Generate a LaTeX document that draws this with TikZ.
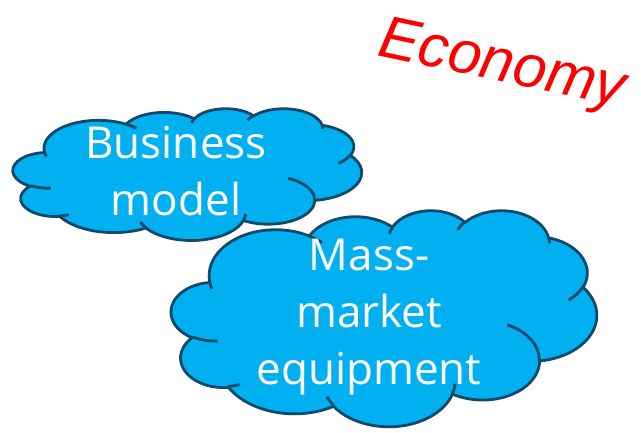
\documentclass[tikz,border=0pt]{standalone}
\usepackage{fontspec}
\setmainfont{Open Sans}
\newfontfamily\econfont{Liberation Sans}
\definecolor{cloudfill}{HTML}{00B0F0}
\definecolor{cloudedge}{HTML}{10496A}
\definecolor{econred}{HTML}{FF0000}
% OOXML-style arcTo: wR hR stAng swAng (visual angles, degrees)
\newcommand\ooArc[4]{%
  \pgfextra{%
    \pgfmathparse{atan2((#1)*sin(#3),(#2)*cos(#3))}\xdef\ooTs{\pgfmathresult}%
    \pgfmathparse{atan2((#1)*sin((#3)+(#4)),(#2)*cos((#3)+(#4)))}\xdef\ooTe{\pgfmathresult}%
    \pgfmathparse{mod(\ooTe-(\ooTs)+720,360)}\xdef\ooD{\pgfmathresult}%
  }%
  arc[start angle=\ooTs, delta angle=\ooD, x radius=#1, y radius=#2]%
}
% cloud in box: left top width height (pixel units)
\newcommand\drawcloud[4]{%
  \begin{scope}[shift={(#1pt,-#2pt)}, x={({#3/43.2*1pt},0pt)}, y={(0pt,{-#4/43.2*1pt})}]
    \path[cloudshape]
      (3.900,14.370)
      \ooArc{6.753}{9.190}{-190.48748}{123.78053}
      \ooArc{5.333}{7.267}{-144.10238}{89.94523}
      \ooArc{4.365}{5.945}{-145.80792}{99.72302}
      \ooArc{4.857}{6.595}{-130.98607}{117.24173}
      \ooArc{5.333}{7.273}{-78.70888}{109.02692}
      \ooArc{6.775}{9.220}{-46.26725}{130.269}
      \ooArc{5.785}{7.867}{0.62502}{114.03333}
      \ooArc{6.752}{9.215}{22.4516}{115.17255}
      \ooArc{7.720}{10.543}{66.24263}{75.71102}
      \ooArc{4.360}{5.918}{-274.94208}{146.73557}
      \ooArc{4.345}{5.945}{-246.8285}{152.51885}
      -- cycle;
    \path[cloudinner]
      (4.693,26.177) \ooArc{4.345}{5.945}{86.742}{26.4295}
      (6.928,34.899) \ooArc{4.360}{5.918}{73.61047}{11.44747}
      (16.478,39.090) \ooArc{6.752}{9.215}{137.62415}{14.0811}
      (28.827,34.751) \ooArc{6.752}{9.215}{6.45327}{15.99835}
      (34.129,22.954) \ooArc{5.785}{7.867}{-70.29235}{70.91737}
      (41.798,15.354) \ooArc{5.333}{7.273}{30.31803}{27.7515}
      (38.324,5.426) \ooArc{4.857}{6.595}{-13.74433}{14.8589}
      (29.078,3.952) \ooArc{4.857}{6.595}{-149.18145}{18.19537}
      (22.141,4.720) \ooArc{4.365}{5.945}{-163.49427}{17.68635}
      (14.000,5.192) \ooArc{6.753}{9.190}{-66.70695}{12.31935}
      (4.127,15.789) \ooArc{6.753}{9.190}{157.65435}{11.85817};
  \end{scope}%
}
\tikzset{
  cloudshape/.style={fill=cloudfill, draw=cloudedge, line width=2.8pt},
  cloudinner/.style={draw=cloudedge, line width=2.8pt},
  cloudtext/.style={text=white, align=center, inner sep=0pt,
    font=\fontsize{44}{57}\selectfont},
  econtext/.style={text=econred, inner sep=0pt,
    font=\econfont\itshape\fontsize{60}{72}\selectfont}
}
\begin{document}
\begin{tikzpicture}[x=1pt, y=-1pt]
  \useasboundingbox (0,0) rectangle (641,432);
  \drawcloud{13}{108.3}{348.6}{131.7}
  \node[cloudtext] (business) at (176,171.5) {Business\\model};
  \drawcloud{171.3}{210}{425.4}{216}
  \node[cloudtext] (mass) at (369,317.5) {Mass-\\market\\equipment};
  \node[econtext, rotate=-12, anchor=base] (economy) at (499,81) {Economy};
\end{tikzpicture}
\end{document}
